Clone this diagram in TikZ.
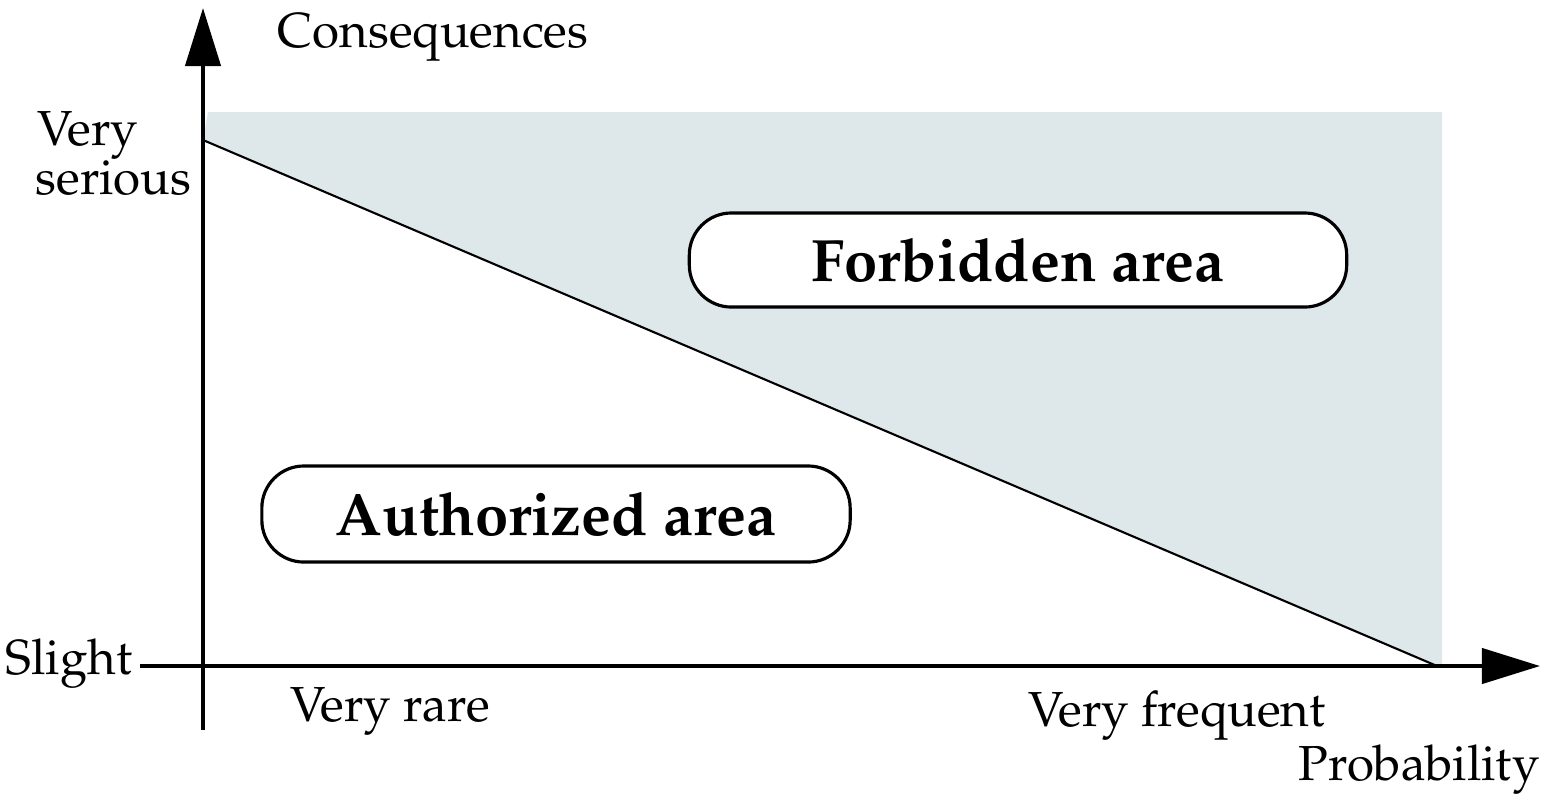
\documentclass[tikz,border=0pt]{standalone}
\usepackage[T1]{fontenc}
\usepackage{mathpazo}
\usetikzlibrary{arrows.meta}
\definecolor{zoneblue}{RGB}{222,232,234}
\begin{document}
\begin{tikzpicture}[
    x=0.01cm, y=-0.01cm,
    axis/.style={line width=1.2pt, -{Triangle[length=0.58cm, width=0.35cm]}},
    zone/.style={rectangle, draw, line width=0.9pt, fill=white, rounded corners=0.42cm, font=\fontsize{17}{20}\selectfont\bfseries},
    lbl/.style={inner sep=0pt, font=\fontsize{14}{16}\selectfont}
]
\useasboundingbox (0,0) rectangle (1552,799);
\coordinate (origin) at (203,666);
\coordinate (ybot) at (203,730);
\coordinate (ytop) at (203,8);
\coordinate (xleft) at (140,666);
\coordinate (xright) at (1540,666);
\coordinate (worst) at (203,140);
\coordinate (limit) at (1437,666);

\fill[zoneblue] (208,112) -- (1442,112) -- (1442,666) -- (limit) -- (worst) -- cycle;
\draw[line width=0.6pt] (worst) -- (limit);
\draw[axis] (ybot) -- (ytop);
\draw[axis] (xleft) -- (xright);

\node[zone, minimum width=6.57cm, minimum height=0.94cm] (forbidden) at (1018,260) {Forbidden area};
\node[zone, minimum width=5.88cm, minimum height=0.96cm] (authorized) at (556,514) {Authorized area};

\node[lbl, anchor=base west] (conseq) at (277,47) {Consequences};
\node[lbl, anchor=base west] (veryser1) at (37,145) {Very};
\node[lbl, anchor=base west] (veryser2) at (35,194) {serious};
\node[lbl, anchor=base west] (slight) at (5,674) {Slight};
\node[lbl, anchor=base west] (rare) at (290,721) {Very rare};
\node[lbl, anchor=base west] (frequent) at (1028,726) {Very frequent};
\node[lbl, anchor=base east] (prob) at (1540,780) {Probability};
\end{tikzpicture}
\end{document}
